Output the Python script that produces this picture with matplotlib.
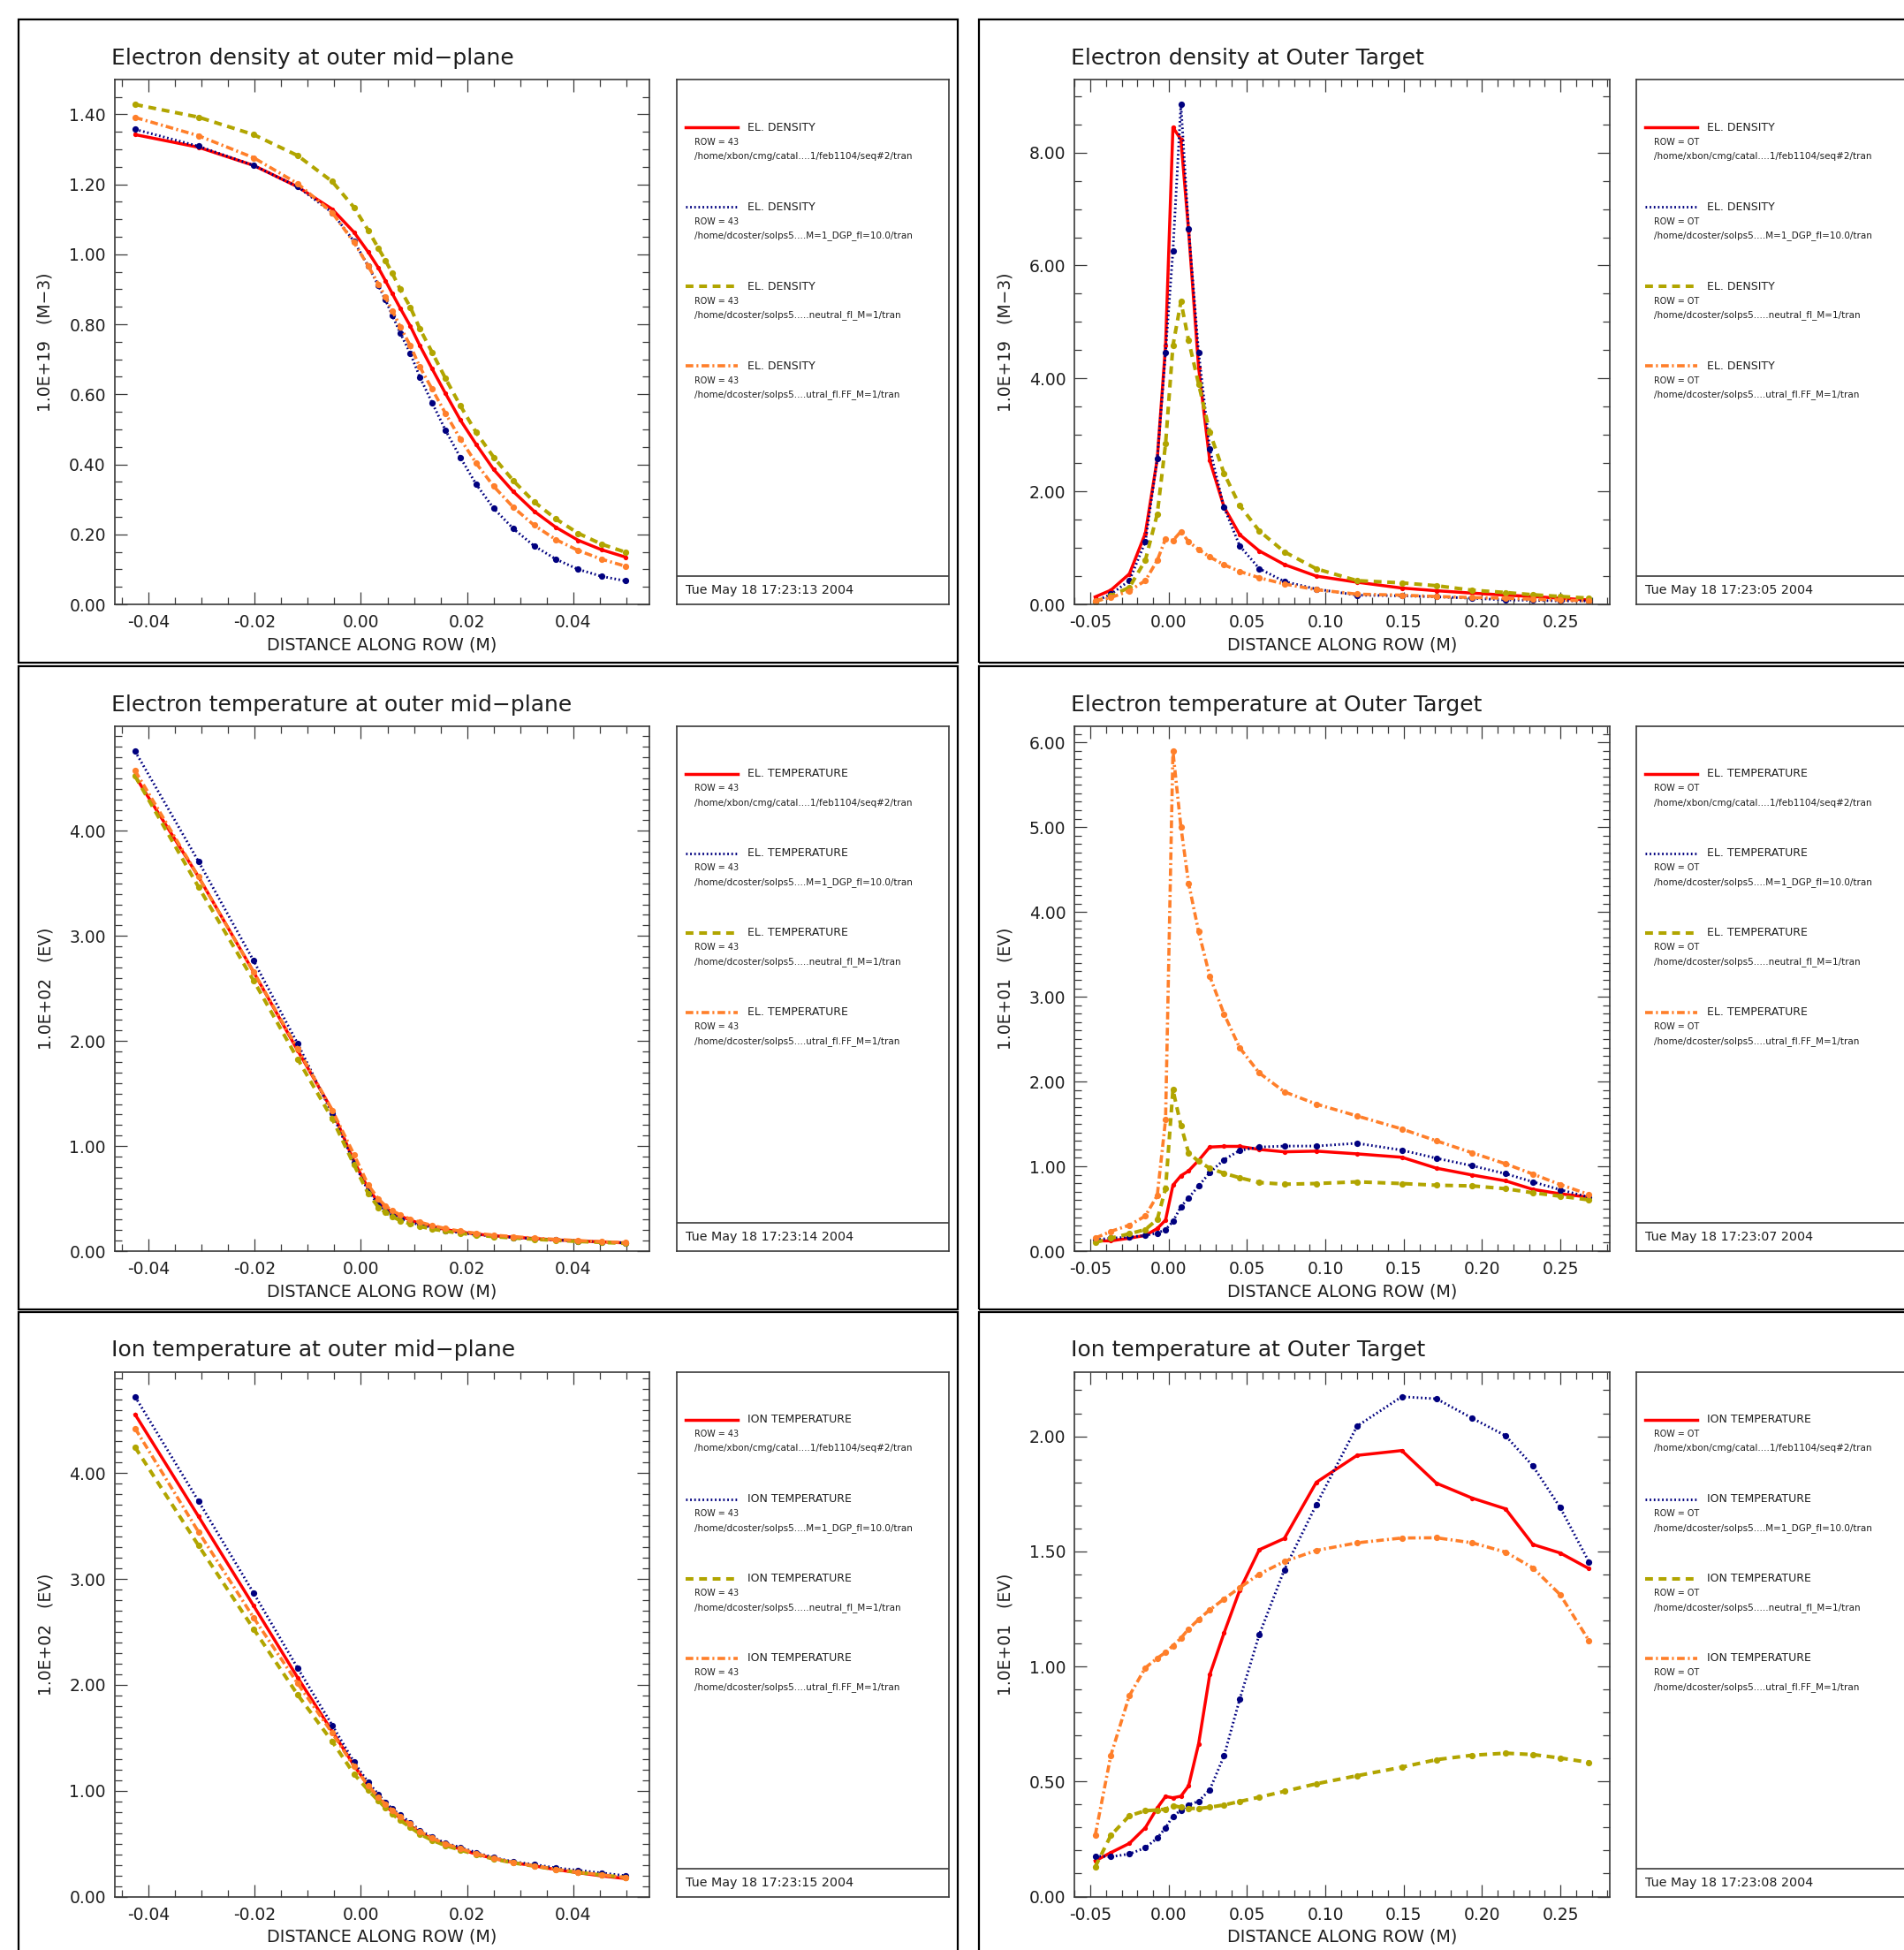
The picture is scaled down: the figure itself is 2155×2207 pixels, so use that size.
import matplotlib
matplotlib.use("Agg")
import matplotlib.pyplot as plt
from matplotlib.patches import Rectangle
from matplotlib.lines import Line2D
from matplotlib.ticker import MultipleLocator, FormatStrFormatter

# ---------------- data ----------------
# grid along row 43 (outer mid-plane) and along the outer target
x_mid = [-0.0425, -0.0306, -0.0202, -0.0119, -0.0054, -0.0013, 0.0014, 0.0033,
         0.0046, 0.0059, 0.0074, 0.0093, 0.0111, 0.0134, 0.0159, 0.0187,
         0.0217, 0.0250, 0.0287, 0.0326, 0.0367, 0.0409, 0.0453, 0.0498]
x_ot = [-0.0469, -0.0369, -0.0251, -0.0149, -0.0073, -0.0020, 0.0027, 0.0078,
        0.0127, 0.0191, 0.0262, 0.0353, 0.0453, 0.0578, 0.0738, 0.0942,
        0.1202, 0.1487, 0.1709, 0.1938, 0.2149, 0.2324, 0.2498, 0.2682]

# electron density, outer mid-plane (1e19 m-3)
ne_mid_1 = [1.342, 1.306, 1.254, 1.193, 1.129, 1.063, 1.006, 0.961, 0.925, 0.888, 0.846, 0.795,
            0.739, 0.673, 0.603, 0.527, 0.457, 0.385, 0.322, 0.266, 0.220, 0.183, 0.156, 0.135]
ne_mid_2 = [1.357, 1.309, 1.254, 1.193, 1.119, 1.037, 0.966, 0.910, 0.870, 0.826, 0.775, 0.717,
            0.649, 0.576, 0.498, 0.420, 0.343, 0.274, 0.216, 0.167, 0.129, 0.100, 0.080, 0.067]
ne_mid_3 = [1.428, 1.392, 1.342, 1.282, 1.208, 1.134, 1.068, 1.017, 0.983, 0.946, 0.900, 0.849,
            0.787, 0.720, 0.646, 0.568, 0.491, 0.420, 0.353, 0.293, 0.244, 0.203, 0.172, 0.149]
ne_mid_4 = [1.391, 1.339, 1.276, 1.202, 1.119, 1.034, 0.966, 0.915, 0.878, 0.839, 0.793, 0.739,
            0.678, 0.615, 0.546, 0.473, 0.403, 0.337, 0.277, 0.226, 0.185, 0.154, 0.129, 0.109]

# electron density, outer target (1e19 m-3)
ne_ot_1 = [0.132, 0.251, 0.539, 1.257, 2.575, 4.581, 8.443, 8.234, 6.617, 4.192, 2.545, 1.725,
           1.235, 0.946, 0.705, 0.500, 0.392, 0.289, 0.241, 0.199, 0.163, 0.139, 0.108, 0.078]
ne_ot_2 = [0.050, 0.180, 0.419, 1.108, 2.575, 4.461, 6.257, 8.850, 6.647, 4.461, 2.754, 1.717,
           1.036, 0.633, 0.404, 0.271, 0.163, 0.151, 0.133, 0.108, 0.078, 0.072, 0.060, 0.060]
ne_ot_3 = [0.050, 0.150, 0.300, 0.780, 1.600, 2.840, 4.580, 5.360, 4.670, 3.900, 3.050, 2.320,
           1.750, 1.300, 0.930, 0.630, 0.420, 0.380, 0.330, 0.250, 0.210, 0.170, 0.140, 0.110]
ne_ot_4 = [0.060, 0.120, 0.240, 0.420, 0.780, 1.160, 1.130, 1.290, 1.110, 0.970, 0.840, 0.700,
           0.584, 0.470, 0.361, 0.259, 0.181, 0.163, 0.139, 0.120, 0.108, 0.090, 0.078, 0.060]

# electron temperature, outer mid-plane (1e2 eV)
te_mid_1 = [4.520, 3.565, 2.656, 1.909, 1.341, 0.854, 0.594, 0.464, 0.416, 0.367, 0.334, 0.295,
            0.263, 0.237, 0.205, 0.182, 0.162, 0.146, 0.133, 0.120, 0.107, 0.097, 0.088, 0.078]
te_mid_2 = [4.757, 3.711, 2.763, 1.974, 1.308, 0.840, 0.570, 0.440, 0.390, 0.345, 0.310, 0.275,
            0.250, 0.225, 0.195, 0.175, 0.158, 0.143, 0.130, 0.118, 0.106, 0.096, 0.087, 0.078]
te_mid_3 = [4.520, 3.468, 2.575, 1.828, 1.260, 0.821, 0.545, 0.416, 0.370, 0.330, 0.290, 0.260,
            0.235, 0.210, 0.190, 0.170, 0.152, 0.138, 0.125, 0.113, 0.102, 0.092, 0.083, 0.074]
te_mid_4 = [4.571, 3.565, 2.656, 1.925, 1.341, 0.919, 0.627, 0.497, 0.432, 0.385, 0.345, 0.305,
            0.275, 0.245, 0.215, 0.190, 0.170, 0.152, 0.138, 0.124, 0.112, 0.100, 0.090, 0.080]

# electron temperature, outer target (1e1 eV)
te_ot_1 = [0.121, 0.121, 0.153, 0.185, 0.266, 0.366, 0.777, 0.889, 0.946, 1.070, 1.227, 1.235,
           1.235, 1.199, 1.171, 1.179, 1.147, 1.107, 0.978, 0.897, 0.829, 0.728, 0.676, 0.636]
te_ot_2 = [0.133, 0.153, 0.165, 0.185, 0.213, 0.254, 0.350, 0.523, 0.628, 0.769, 0.926, 1.078,
           1.187, 1.227, 1.239, 1.239, 1.272, 1.191, 1.095, 1.006, 0.913, 0.817, 0.724, 0.636]
te_ot_3 = [0.101, 0.153, 0.205, 0.254, 0.374, 0.736, 1.903, 1.481, 1.159, 1.058, 0.978, 0.918,
           0.865, 0.809, 0.789, 0.797, 0.817, 0.797, 0.777, 0.769, 0.736, 0.688, 0.648, 0.604]
te_ot_4 = [0.153, 0.233, 0.306, 0.414, 0.656, 1.549, 5.895, 5.002, 4.338, 3.767, 3.243, 2.797,
           2.398, 2.101, 1.879, 1.734, 1.594, 1.441, 1.300, 1.159, 1.030, 0.909, 0.785, 0.668]

# ion temperature, outer mid-plane (1e2 eV)
ti_mid_1 = [4.555, 3.594, 2.748, 2.068, 1.561, 1.239, 1.045, 0.930, 0.860, 0.800, 0.740, 0.670,
            0.605, 0.545, 0.490, 0.450, 0.400, 0.360, 0.320, 0.290, 0.255, 0.225, 0.195, 0.170]
ti_mid_2 = [4.723, 3.739, 2.868, 2.158, 1.619, 1.271, 1.077, 0.965, 0.890, 0.830, 0.770, 0.700,
            0.626, 0.561, 0.506, 0.465, 0.416, 0.368, 0.329, 0.303, 0.271, 0.248, 0.223, 0.197]
ti_mid_3 = [4.245, 3.319, 2.529, 1.906, 1.465, 1.158, 1.003, 0.905, 0.840, 0.780, 0.720, 0.655,
            0.590, 0.532, 0.482, 0.440, 0.395, 0.355, 0.318, 0.288, 0.255, 0.228, 0.203, 0.180]
ti_mid_4 = [4.423, 3.448, 2.635, 2.013, 1.545, 1.229, 1.045, 0.940, 0.875, 0.815, 0.755, 0.685,
            0.615, 0.552, 0.497, 0.455, 0.405, 0.362, 0.322, 0.291, 0.258, 0.230, 0.205, 0.180]

# ion temperature, outer target (1e1 eV)
ti_ot_1 = [0.155, 0.191, 0.231, 0.299, 0.385, 0.435, 0.429, 0.436, 0.481, 0.664, 0.964, 1.145,
           1.331, 1.507, 1.556, 1.800, 1.917, 1.938, 1.796, 1.731, 1.685, 1.530, 1.493, 1.425]
ti_ot_2 = [0.176, 0.173, 0.185, 0.212, 0.254, 0.299, 0.349, 0.375, 0.399, 0.414, 0.464, 0.611,
           0.857, 1.138, 1.420, 1.703, 2.044, 2.172, 2.163, 2.078, 2.003, 1.871, 1.691, 1.454]
ti_ot_3 = [0.129, 0.266, 0.351, 0.373, 0.376, 0.380, 0.395, 0.388, 0.383, 0.383, 0.388, 0.398,
           0.413, 0.432, 0.457, 0.490, 0.525, 0.562, 0.595, 0.614, 0.623, 0.617, 0.602, 0.583]
ti_ot_4 = [0.266, 0.614, 0.873, 0.994, 1.036, 1.061, 1.090, 1.123, 1.163, 1.204, 1.246, 1.293,
           1.342, 1.401, 1.456, 1.504, 1.537, 1.558, 1.559, 1.537, 1.497, 1.428, 1.312, 1.112]

runs = ["/home/xbon/cmg/catal....1/feb1104/seq#2/tran",
        "/home/dcoster/solps5....M=1_DGP_fl=10.0/tran",
        "/home/dcoster/solps5.....neutral_fl_M=1/tran",
        "/home/dcoster/solps5....utral_fl.FF_M=1/tran"]

# ---------------- styles ----------------
W, H = 2155, 2207
TXT = "#1e1e1e"
FRAME = "#3a3a3a"
styles = [dict(color="#ff0000", ls="-", lw=2.5, ms=3.8),
          dict(color="#00007f", ls=(0, (0.6, 1.0)), lw=2.1, ms=5.2),
          dict(color="#b1a500", ls=(0, (2.2, 1.6)), lw=2.9, ms=5.2),
          dict(color="#ff7f2a", ls=(0, (2.4, 1.0, 0.6, 1.0)), lw=2.6, ms=5.2)]

plt.rcParams["font.family"] = "DejaVu Sans"
fig = plt.figure(figsize=(W / 100, H / 100), dpi=100)


def fx(px):
    return px / W


def fy(py):
    return 1 - py / H


def box(x0, y0, w, h, lw=1.6):
    fig.add_artist(Rectangle((fx(x0), fy(y0 + h)), w / W, h / H, transform=fig.transFigure,
                             fill=False, lw=lw, edgecolor="black", clip_on=False))


col_x = [129.5, 1216.0]     # plot left edge (px)
row_y = [90.0, 822.0, 1552.5]  # plot top edge (px)
PW, PH = 605.5, 594.0
leg_x = [766.0, 1852.4]
LW = 308.0


def panel(row, col, title, ylab, x, series, xlim, xmaj, xmin, ymaj, ymin, qty, rowname, date):
    # outer frame of this plot page
    box([21, 1108][col], [22.5, 754.5, 1485][row], 1063, 727)

    x0, y0 = col_x[col], row_y[row]
    ax = fig.add_axes([fx(x0), fy(y0 + PH), PW / W, PH / H])
    for ys, st in zip(series, styles):
        ax.plot(x, ys, color=st["color"], ls=st["ls"], lw=st["lw"],
                marker="o", ms=st["ms"], mew=0, mfc=st["color"])
    ymax = max(max(s) for s in series) * 1.05
    ax.set_xlim(*xlim)
    ax.set_ylim(0, ymax)
    ax.xaxis.set_major_locator(MultipleLocator(xmaj))
    ax.xaxis.set_minor_locator(MultipleLocator(xmin))
    ax.yaxis.set_major_locator(MultipleLocator(ymaj))
    ax.yaxis.set_minor_locator(MultipleLocator(ymin))
    ax.xaxis.set_major_formatter(FormatStrFormatter("%.2f"))
    ax.yaxis.set_major_formatter(FormatStrFormatter("%.2f"))
    ax.tick_params(which="both", direction="in", top=True, right=True,
                   colors=FRAME, labelcolor=TXT, width=0.9)
    ax.tick_params(which="major", length=10, labelsize=13.5)
    ax.tick_params(axis="x", which="major", pad=8)
    ax.tick_params(axis="y", which="major", pad=7)
    ax.tick_params(which="minor", length=5.5)
    for sp in ax.spines.values():
        sp.set_color(FRAME)
        sp.set_linewidth(1.2)

    fig.text(fx(x0 - 4), fy(y0 - 24), title, fontsize=18, color=TXT, ha="left", va="center")
    fig.text(fx(x0 + PW / 2), fy(y0 + PH + 46), "DISTANCE ALONG ROW (M)", fontsize=13.8,
             color=TXT, ha="center", va="center")
    fig.text(fx(x0 - 78), fy(y0 + PH / 2), ylab, fontsize=13.5, color=TXT,
             rotation=90, ha="center", va="center")

    # legend box
    lx = leg_x[col]
    lg = fig.add_axes([fx(lx), fy(y0 + PH), LW / W, PH / H])
    lg.set_xlim(0, LW)
    lg.set_ylim(PH, 0)
    lg.set_xticks([])
    lg.set_yticks([])
    for sp in lg.spines.values():
        sp.set_color(FRAME)
        sp.set_linewidth(1.2)
    for i, st in enumerate(styles):
        yy = 54 + 90 * i
        lg.add_line(Line2D([10, 69], [yy, yy], color=st["color"], ls=st["ls"], lw=st["lw"]))
        lg.text(80, yy, qty, fontsize=9.0, color=TXT, va="center", ha="left")
        lg.text(20, yy + 16.5, "ROW = " + rowname, fontsize=6.9, color=TXT, va="center")
        lg.text(20, yy + 33, runs[i], fontsize=7.5, color=TXT, va="center")
    lg.add_line(Line2D([0, LW], [562, 562], color=FRAME, lw=1.2))
    lg.text(10, 578, date, fontsize=10.3, color=TXT, va="center", ha="left")


xl_mid = (-0.0464, 0.0543)
xl_ot = (-0.0602, 0.2812)

panel(0, 0, "Electron density at outer mid\u2212plane", "1.0E+19   (M\u22123)", x_mid,
      [ne_mid_1, ne_mid_2, ne_mid_3, ne_mid_4], xl_mid, 0.02, 0.005, 0.2, 0.05,
      "EL. DENSITY", "43", "Tue May 18 17:23:13 2004")
panel(0, 1, "Electron density at Outer Target", "1.0E+19   (M\u22123)", x_ot,
      [ne_ot_1, ne_ot_2, ne_ot_3, ne_ot_4], xl_ot, 0.05, 0.01, 2.0, 0.5,
      "EL. DENSITY", "OT", "Tue May 18 17:23:05 2004")
panel(1, 0, "Electron temperature at outer mid\u2212plane", "1.0E+02   (EV)", x_mid,
      [te_mid_1, te_mid_2, te_mid_3, te_mid_4], xl_mid, 0.02, 0.005, 1.0, 0.1,
      "EL. TEMPERATURE", "43", "Tue May 18 17:23:14 2004")
panel(1, 1, "Electron temperature at Outer Target", "1.0E+01   (EV)", x_ot,
      [te_ot_1, te_ot_2, te_ot_3, te_ot_4], xl_ot, 0.05, 0.01, 1.0, 0.1,
      "EL. TEMPERATURE", "OT", "Tue May 18 17:23:07 2004")
panel(2, 0, "Ion temperature at outer mid\u2212plane", "1.0E+02   (EV)", x_mid,
      [ti_mid_1, ti_mid_2, ti_mid_3, ti_mid_4], xl_mid, 0.02, 0.005, 1.0, 0.1,
      "ION TEMPERATURE", "43", "Tue May 18 17:23:15 2004")
panel(2, 1, "Ion temperature at Outer Target", "1.0E+01   (EV)", x_ot,
      [ti_ot_1, ti_ot_2, ti_ot_3, ti_ot_4], xl_ot, 0.05, 0.01, 0.5, 0.1,
      "ION TEMPERATURE", "OT", "Tue May 18 17:23:08 2004")

fig.savefig("out.png", dpi=100, facecolor="white")
